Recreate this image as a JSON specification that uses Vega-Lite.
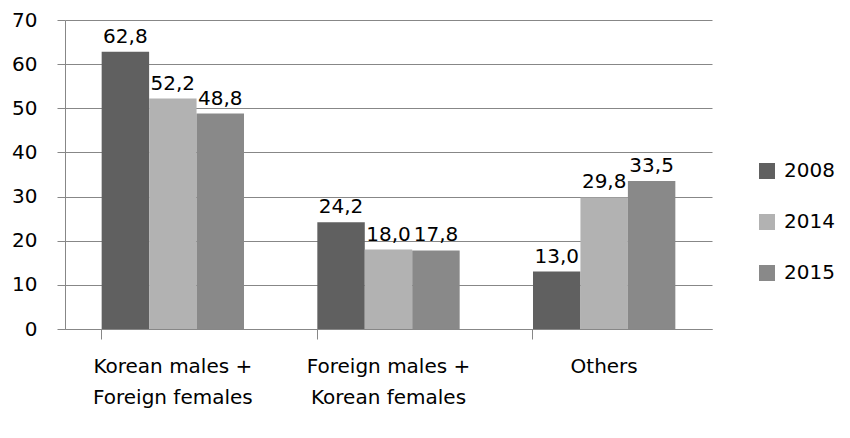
{
  "$schema": "https://vega.github.io/schema/vega-lite/v6.json",
  "width": 647,
  "height": 309,
  "autosize": "none",
  "padding": {"left": 65, "top": 20, "right": 138, "bottom": 109},
  "background": "white",
  "config": {
    "font": "DejaVu Sans",
    "view": {"stroke": null},
    "locale": {"number": {"decimal": ",", "thousands": ".", "grouping": [3], "currency": ["", ""]}}
  },
  "data": {
    "values": [
      {"group": "Korean males + Foreign females", "year": "2008", "value": 62.8},
      {"group": "Korean males + Foreign females", "year": "2014", "value": 52.2},
      {"group": "Korean males + Foreign females", "year": "2015", "value": 48.8},
      {"group": "Foreign males + Korean females", "year": "2008", "value": 24.2},
      {"group": "Foreign males + Korean females", "year": "2014", "value": 18.0},
      {"group": "Foreign males + Korean females", "year": "2015", "value": 17.8},
      {"group": "Others", "year": "2008", "value": 13.0},
      {"group": "Others", "year": "2014", "value": 29.8},
      {"group": "Others", "year": "2015", "value": 33.5}
    ]
  },
  "encoding": {
    "x": {
      "field": "group", "type": "nominal", "sort": null,
      "scale": {"paddingInner": 0.34, "paddingOuter": 0.17},
      "axis": {
        "title": null, "labelAngle": 0, "bandPosition": 0, "labelFont": "DejaVu Sans",
        "domainColor": "#878787", "tickColor": "#878787", "tickSize": 10,
        "labelFontSize": 20, "labelColor": "#000000", "labelPadding": 17,
        "labelLineHeight": 31, "labelBaseline": "top",
        "labelExpr": "datum.label == 'Korean males + Foreign females' ? ['Korean males +', 'Foreign females'] : datum.label == 'Foreign males + Korean females' ? ['Foreign males +', 'Korean females'] : datum.label"
      }
    },
    "xOffset": {"field": "year", "type": "nominal", "scale": {"paddingInner": 0, "paddingOuter": 0}},
    "y": {
      "field": "value", "type": "quantitative",
      "scale": {"domain": [0, 70], "nice": false},
      "axis": {
        "title": null, "values": [0,10,20,30,40,50,60,70], "labelOverlap": false,
        "labelFont": "DejaVu Sans",
        "domainColor": "#878787", "tickColor": "#878787", "gridColor": "#878787",
        "tickSize": 8, "labelPadding": 20, "labelFontSize": 20, "labelColor": "#000000",
        "format": "d"
      }
    }
  },
  "layer": [
    {
      "mark": {"type": "bar"},
      "encoding": {
        "color": {
          "field": "year", "type": "nominal",
          "scale": {"domain": ["2008", "2014", "2015"], "range": ["#606060", "#b2b2b2", "#898989"]},
          "legend": {
            "title": null, "orient": "none", "legendX": 692, "legendY": 141,
            "labelFont": "DejaVu Sans",
            "symbolType": "square", "symbolSize": 256, "symbolStrokeWidth": 0,
            "labelFontSize": 20, "labelColor": "#000000", "rowPadding": 31, "labelOffset": 7
          }
        }
      }
    },
    {
      "mark": {"type": "text", "baseline": "bottom", "dy": -5, "fontSize": 20, "color": "#000000", "font": "DejaVu Sans"},
      "encoding": {
        "text": {"field": "value", "type": "quantitative", "format": ".1f"}
      }
    }
  ]
}
